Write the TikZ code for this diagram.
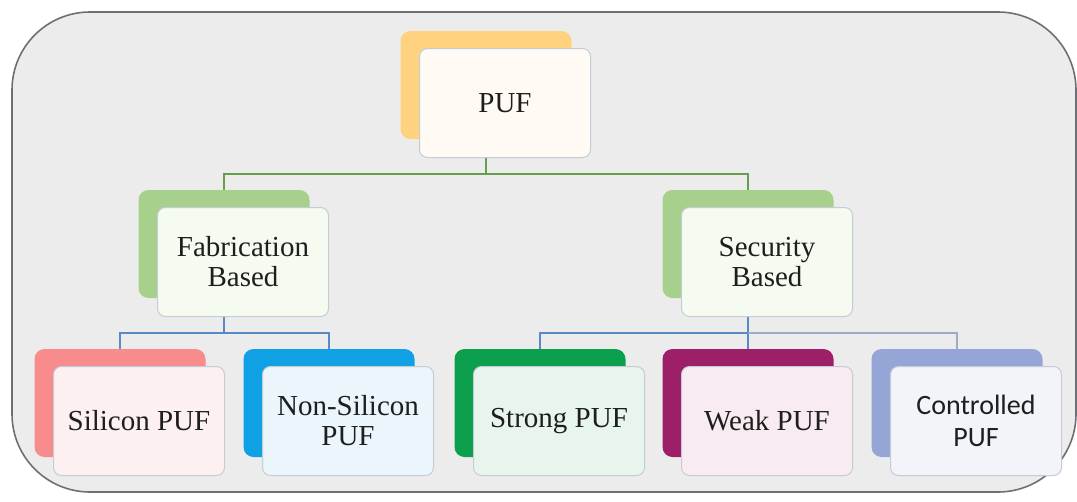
\documentclass[tikz,border=0pt]{standalone}
\usepackage{fontspec}
\setmainfont{Liberation Serif}
\newfontfamily\calfont{Carlito}
\definecolor{framefill}{HTML}{ECECEC}
\definecolor{framedraw}{HTML}{6E6E78}
\definecolor{txt}{HTML}{1E1E1E}
\definecolor{lvlone}{HTML}{62A050}
\definecolor{lvltwo}{HTML}{5A8AC6}
\definecolor{lvltwolight}{HTML}{9CACC4}
\definecolor{frontdraw}{HTML}{C6CCD4}
\definecolor{pufback}{HTML}{FFD27F}
\definecolor{puffront}{HTML}{FFFAF3}
\definecolor{midback}{HTML}{A8D08D}
\definecolor{midfront}{HTML}{F6FBF2}
\definecolor{silback}{HTML}{F88B8C}
\definecolor{silfront}{HTML}{FDF0F0}
\definecolor{nonback}{HTML}{10A0E4}
\definecolor{nonfront}{HTML}{EAF6FC}
\definecolor{strback}{HTML}{0CA04E}
\definecolor{strfront}{HTML}{E8F5EC}
\definecolor{weakback}{HTML}{9C1F68}
\definecolor{weakfront}{HTML}{F8ECF2}
\definecolor{ctlback}{HTML}{94A5D6}
\definecolor{ctlfront}{HTML}{F2F4FA}
\pgfdeclarelayer{framelayer}
\pgfdeclarelayer{linklayer}
\pgfsetlayers{framelayer,linklayer,main}
\tikzset{
  backbox/.style={rounded corners=10pt, minimum width=171pt, minimum height=108pt, inner sep=0pt, draw=none},
  frontbox/.style={rounded corners=8pt, minimum width=171pt, minimum height=109pt, inner sep=0pt,
    draw=frontdraw, line width=1pt, align=center, text=txt, font=\fontsize{29}{30}\selectfont},
  linkone/.style={draw=lvlone, line width=2pt},
  linktwo/.style={draw=lvltwo, line width=2pt},
  linktwolight/.style={draw=lvltwolight, line width=2pt},
}
\begin{document}
\begin{tikzpicture}[x=1pt,y=-1pt]
\useasboundingbox (0,0) rectangle (1077,501);
\begin{pgfonlayer}{framelayer}
\path[fill=framefill, draw=framedraw, line width=1.6pt, rounded corners=78pt] (12,12) rectangle (1076,492);
\end{pgfonlayer}
\coordinate (busone) at (0,174);
\coordinate (bustwo) at (0,333);
% back boxes
\node[backbox, fill=pufback] (pufb) at (486,85) {};
\node[backbox, fill=midback] (fabb) at (224,244) {};
\node[backbox, fill=midback] (secb) at (748,244) {};
\node[backbox, fill=silback] (silb) at (120,403) {};
\node[backbox, fill=nonback] (nonb) at (329,403) {};
\node[backbox, fill=strback] (strb) at (540,403) {};
\node[backbox, fill=weakback] (weakb) at (748,403) {};
\node[backbox, fill=ctlback] (ctlb) at (957,403) {};
% front boxes
\node[frontbox, fill=puffront] (puf) at ([shift={(19,18)}]pufb.center) {PUF};
\node[frontbox, fill=midfront] (fab) at ([shift={(19,18)}]fabb.center) {Fabrication\\Based};
\node[frontbox, fill=midfront] (sec) at ([shift={(19,18)}]secb.center) {Security\\Based};
\node[frontbox, fill=silfront] (sil) at ([shift={(19,18)}]silb.center) {Silicon PUF};
\node[frontbox, fill=nonfront] (non) at ([shift={(19,18)}]nonb.center) {Non-Silicon\\PUF};
\node[frontbox, fill=strfront] (str) at ([shift={(19,18)}]strb.center) {Strong PUF};
\node[frontbox, fill=weakfront] (weak) at ([shift={(19,18)}]weakb.center) {Weak PUF};
\node[frontbox, fill=ctlfront, font=\calfont\fontsize{28}{32}\selectfont] (ctl) at ([shift={(19,18)}]ctlb.center) {Controlled\\PUF};
% connectors behind the boxes
\begin{pgfonlayer}{linklayer}
\draw[linkone] (pufb.south) -- (pufb.south |- busone) -| (fabb.north);
\draw[linkone] (pufb.south |- busone) -| (secb.north);
\draw[linktwo] (fabb.south) -- (fabb.south |- bustwo) -| (silb.north);
\draw[linktwo] (fabb.south |- bustwo) -| (nonb.north);
\draw[linktwo] (secb.south) -- (secb.south |- bustwo) -| (strb.north);
\draw[linktwo] (secb.south |- bustwo) -- (weakb.north);
\draw[linktwolight] (secb.south |- bustwo) -| (ctlb.north);
\end{pgfonlayer}
\end{tikzpicture}
\end{document}
